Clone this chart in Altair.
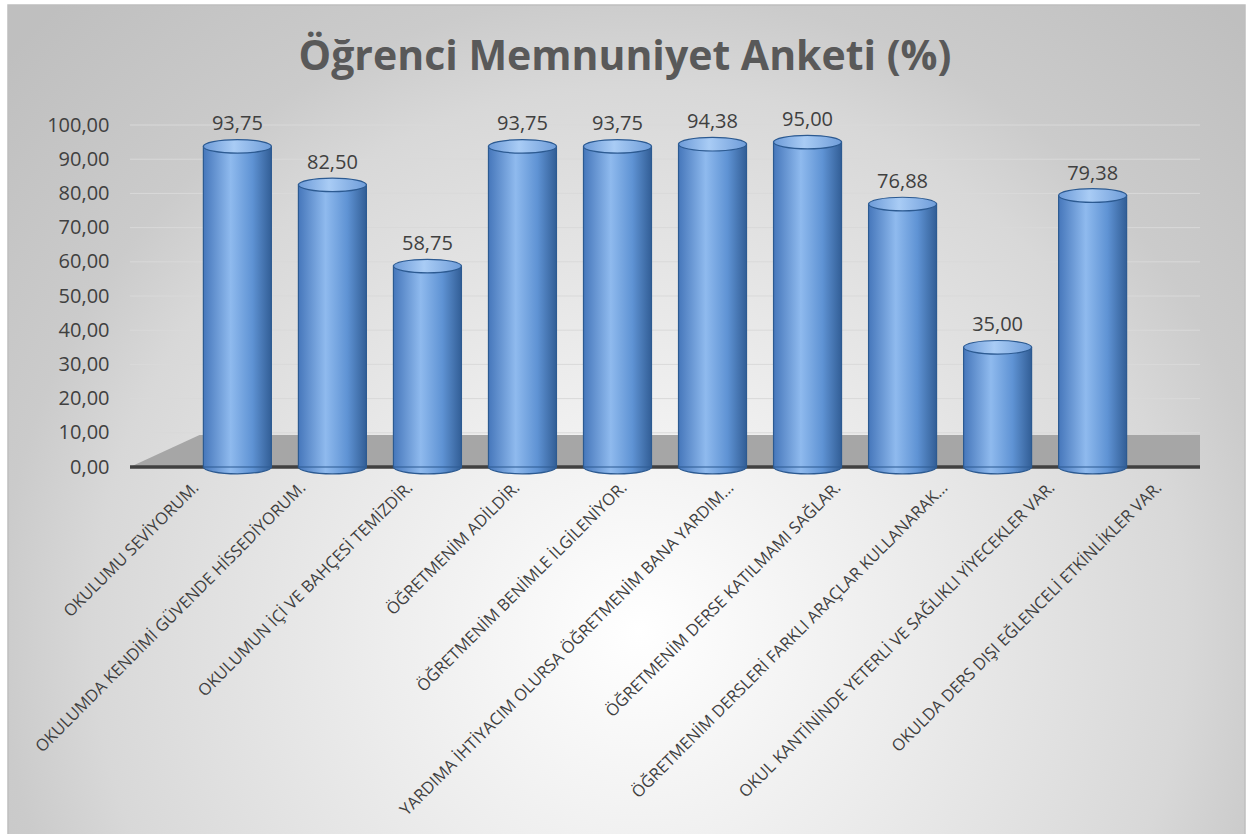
import altair as alt
import pandas as pd

categories = [
    "OKULUMU SEVİYORUM.",
    "OKULUMDA KENDİMİ GÜVENDE HİSSEDİYORUM.",
    "OKULUMUN İÇİ VE BAHÇESİ TEMİZDİR.",
    "ÖĞRETMENİM ADİLDİR.",
    "ÖĞRETMENİM BENİMLE İLGİLENİYOR.",
    "YARDIMA İHTİYACIM OLURSA ÖĞRETMENİM BANA YARDIM...",
    "ÖĞRETMENİM DERSE KATILMAMI SAĞLAR.",
    "ÖĞRETMENİM DERSLERİ FARKLI ARAÇLAR KULLANARAK...",
    "OKUL KANTİNİNDE YETERLİ VE SAĞLIKLI YİYECEKLER VAR.",
    "OKULDA DERS DIŞI EĞLENCELİ ETKİNLİKLER VAR.",
]
values = [93.75, 82.50, 58.75, 93.75, 93.75, 94.38, 95.00, 76.88, 35.00, 79.38]
y_ticks = [0, 10, 20, 30, 40, 50, 60, 70, 80, 90, 100]
title_text = "Öğrenci Memnuniyet Anketi (%)"

W, H = 1070, 342
FONT = "Open Sans"

df = pd.DataFrame({
    "cat": categories,
    "val": values,
    "base": [0.0] * len(values),
    "label": [f"{v:.2f}".replace(".", ",") for v in values],
})
grid_df = pd.DataFrame({"v": y_ticks[1:]})
one = pd.DataFrame({"a": [0]})

yscale = alt.Scale(domain=[0, 100], nice=False, zero=True)
bar_xscale = alt.Scale(type="band", paddingInner=0, paddingOuter=0.63)
axis_xscale = alt.Scale(type="band", paddingInner=0, paddingOuter=0)

bg = alt.Chart(one).mark_rect(
    fill=alt.RadialGradient(
        gradient="radial",
        stops=[
            alt.GradientStop(color="#ffffff", offset=0),
            alt.GradientStop(color="#ececec", offset=0.32),
            alt.GradientStop(color="#d8d8d8", offset=0.64),
            alt.GradientStop(color="#cbcbcb", offset=0.75),
            alt.GradientStop(color="#bfbfbf", offset=1),
        ],
        x1=0.51, y1=0.67, x2=0.51, y2=0.67, r1=0, r2=0.69,
    ),
    stroke="#bfbfbf",
    strokeWidth=1.5,
).encode(
    x=alt.value(-122), x2=alt.value(1115), y=alt.value(-120), y2=alt.value(712)
)

grid = alt.Chart(grid_df).mark_rule(color="#d9d9d9", strokeWidth=1).encode(
    y=alt.Y("v:Q", scale=yscale, axis=None),
    x=alt.value(0),
    x2=alt.value(W),
)

floor = alt.Chart(one).mark_point(
    shape="M -1 0 L 1 0 L 1 -0.06 L -0.87 -0.06 Z",
    size=W * W,
    filled=True,
    fill="#a6a6a6",
    opacity=1,
    strokeWidth=0,
).encode(x=alt.value(W / 2), y=alt.value(H))

front_line = alt.Chart(one).mark_rule(color="#404040", strokeWidth=3.5).encode(
    x=alt.value(0), x2=alt.value(W), y=alt.value(H)
)

ellipse = "M -1 0 A 1 0.2 0 1 1 1 0 A 1 0.2 0 1 1 -1 0 Z"
BW = 68

bar_grad = alt.LinearGradient(
    gradient="linear",
    stops=[
        alt.GradientStop(color="#4677bb", offset=0),
        alt.GradientStop(color="#8fbaee", offset=0.4),
        alt.GradientStop(color="#5f93d4", offset=0.72),
        alt.GradientStop(color="#325e96", offset=1),
    ],
    x1=0, x2=1, y1=0, y2=0,
)
cap_grad = alt.LinearGradient(
    gradient="linear",
    stops=[
        alt.GradientStop(color="#6d9bd8", offset=0),
        alt.GradientStop(color="#a9ccf5", offset=0.45),
        alt.GradientStop(color="#6f9dd9", offset=1),
    ],
    x1=0, x2=1, y1=0, y2=0,
)

X = alt.X("cat:N", sort=categories, scale=bar_xscale, axis=None)
Yv = alt.Y("val:Q", scale=yscale, axis=None)

bottom_caps = alt.Chart(df).mark_point(
    shape=ellipse, size=BW * BW, filled=True, fill=bar_grad,
    stroke="#2c5a91", strokeWidth=1.2, opacity=1,
).encode(x=X, y=alt.Y("base:Q", scale=yscale, axis=None))

bars = alt.Chart(df).mark_bar(
    size=BW, fill=bar_grad, stroke="#2c5a91", strokeWidth=1.2
).encode(x=X, y=Yv)

top_caps = alt.Chart(df).mark_point(
    shape=ellipse, size=BW * BW, filled=True, fill=cap_grad,
    stroke="#2c5a91", strokeWidth=1.2, opacity=1,
).encode(x=X, y=Yv)

value_labels = alt.Chart(df).mark_text(
    baseline="bottom", dy=-12, fontSize=20, color="#404040", font=FONT
).encode(x=X, y=Yv, text="label:N")

axis_layer = alt.Chart(df).mark_point(opacity=0).encode(
    x=alt.X(
        "cat:N",
        sort=categories,
        scale=axis_xscale,
        axis=alt.Axis(
            labelAngle=-45,
            labelFontSize=16.5,
            labelColor="#404040",
            labelFont=FONT,
            labelLimit=700,
            labelOverlap=False,
            ticks=False,
            domain=False,
            title=None,
            labelPadding=12,
            labelOffset=7,
            zindex=1,
        ),
    ),
    y=alt.Y(
        "val:Q",
        scale=alt.Scale(domain=[0, 100], nice=False, zero=True),
        axis=alt.Axis(
            values=y_ticks,
            labelExpr="replace(format(datum.value, '.2f'), '.', ',')",
            ticks=False,
            domain=False,
            grid=False,
            labelFontSize=20,
            labelColor="#404040",
            labelFont=FONT,
            labelPadding=21,
            title=None,
            zindex=1,
        ),
    ),
)

title = alt.Chart(one).mark_text(
    text=title_text, fontSize=41, fontWeight="bold", color="#595959",
    font=FONT, align="center", baseline="middle",
).encode(x=alt.value(495), y=alt.value(-67))

main = alt.layer(bg, grid, floor, front_line, bottom_caps, bars, top_caps, value_labels, title)

chart = alt.layer(main, axis_layer).resolve_scale(
    x="independent", y="independent"
).properties(
    width=W,
    height=H,
    padding={"left": 130, "top": 125, "right": 47, "bottom": 367},
    autosize=alt.AutoSizeParams(type="none"),
    background="white",
).configure_view(stroke=None)

chart.save("out.html", embed_options={"renderer": "svg", "actions": False})
